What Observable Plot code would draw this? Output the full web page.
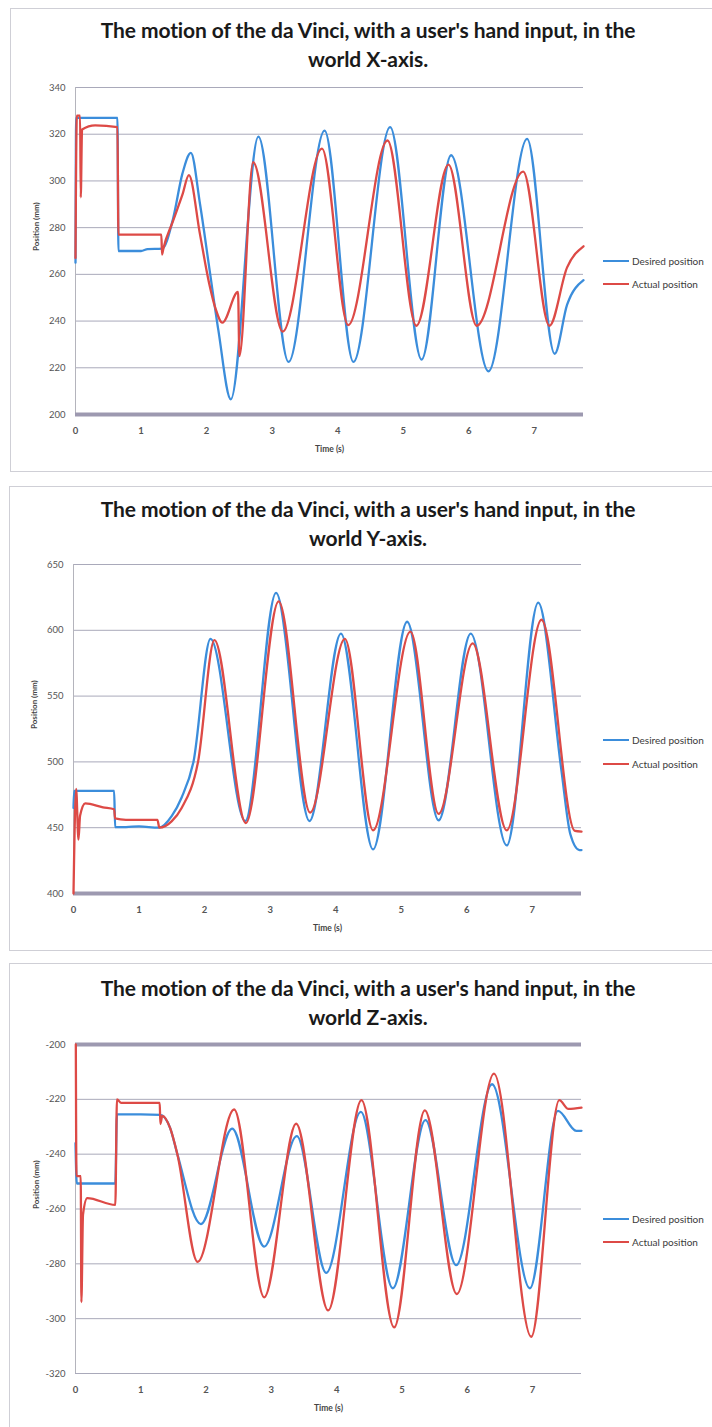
<!DOCTYPE html>
<html><head><meta charset="utf-8">
<script src="https://cdn.jsdelivr.net/npm/d3@7"></script>
<script src="https://cdn.jsdelivr.net/npm/@observablehq/plot@0.6"></script>
<style>
body{margin:0;background:#fff;width:712px;height:1427px;position:relative;overflow:hidden;font-family:Lato,"Open Sans",sans-serif;}
.box{position:absolute;border:1px solid #cfcfd6;box-sizing:border-box;background:#fff;}
.title{position:absolute;left:0;width:736px;text-align:center;font-weight:700;font-size:21px;color:#1a1a1a;line-height:29px;letter-spacing:-0.1px;}
.plot{position:absolute;left:0;}
.leg{position:absolute;left:603px;font-size:10px;color:#3a3a3a;display:flex;align-items:center;height:12px;white-space:nowrap;}
.leg .l{display:inline-block;width:26px;height:2px;margin-right:3px;}
</style></head><body>
<script>
// ---------- data ----------
const timeTicks = [0, 1, 2, 3, 4, 5, 6, 7];
const seriesNames = ["Desired position", "Actual position"];

// X axis panel
const xTicks = [200, 220, 240, 260, 280, 300, 320, 340];
const xDesiredT = [0, 0.01, 0.35, 0.64, 0.655, 1.0, 1.1, 1.32, 1.49, 1.63, 1.76, 1.90, 2.04, 2.18, 2.37, 2.79, 3.25, 3.80, 4.24, 4.80, 5.28, 5.73, 6.30, 6.89, 7.31, 7.50, 7.75];
const xDesiredV = [265, 327, 327, 327, 270, 270, 270.8, 271, 284, 303, 312, 290, 263, 236, 206.5, 319, 222.5, 321.5, 222.5, 323, 223.5, 311, 218.5, 318, 226, 247, 257.5];
const xActualT = [0, 0.02, 0.07, 0.08, 0.10, 0.3, 0.64, 0.655, 1.0, 1.31, 1.32, 1.34, 1.49, 1.63, 1.73, 1.90, 2.04, 2.14, 2.24, 2.48, 2.50, 2.71, 3.16, 3.76, 4.16, 4.76, 5.20, 5.69, 6.12, 6.83, 7.23, 7.50, 7.75];
const xActualV = [267, 328, 328, 293, 322, 323.8, 323, 277, 277, 277, 268.5, 271, 283, 294, 302.5, 277, 256, 245, 239.3, 252.5, 225, 308, 235.5, 313.8, 238.3, 317.3, 238, 307, 238, 304, 238, 263, 272];

// Y axis panel
const yTicks = [400, 450, 500, 550, 600, 650];
const yDesiredT = [0, 0.01, 0.35, 0.62, 0.635, 0.8, 1.0, 1.30, 1.50, 1.65, 1.83, 2.09, 2.62, 3.09, 3.60, 4.08, 4.57, 5.09, 5.57, 6.06, 6.61, 7.09, 7.44, 7.58, 7.72, 7.75];
const yDesiredV = [465, 478, 478, 478, 450.5, 450.5, 451, 450, 459, 473, 500, 593.5, 455, 628.5, 455, 597.5, 433.5, 606.5, 455.5, 597.5, 436.5, 621, 495, 445, 433, 433];
const yActualT = [0, 0.04, 0.076, 0.10, 0.18, 0.45, 0.62, 0.635, 0.8, 1.28, 1.31, 1.50, 1.65, 1.90, 2.15, 2.63, 3.13, 3.61, 4.14, 4.57, 5.14, 5.57, 6.09, 6.61, 7.14, 7.65, 7.75];
const yActualV = [400, 479.5, 441, 459, 468.5, 465.5, 464, 457, 456, 456, 450, 455, 465, 500, 592.5, 453.5, 622, 461.5, 593.5, 448, 599, 460.5, 590, 448, 608, 447.5, 447];

// Z axis panel
const zTicks = [-320, -300, -280, -260, -240, -220, -200];
const zDesiredT = [0, 0.02, 0.35, 0.61, 0.635, 1.0, 1.30, 1.45, 1.56, 1.92, 2.40, 2.89, 3.39, 3.84, 4.37, 4.86, 5.36, 5.83, 6.38, 6.96, 7.39, 7.67, 7.75];
const zDesiredV = [-236, -250.7, -250.7, -250.7, -225.5, -225.5, -225.7, -230.5, -240, -265.5, -230.7, -273.7, -233.4, -283.3, -224.6, -288.9, -227.6, -280.5, -214.5, -288.9, -224.2, -231.5, -231.5];
const zActualT = [0.005, 0.015, 0.08, 0.09, 0.115, 0.18, 0.61, 0.635, 0.7, 1.29, 1.30, 1.33, 1.45, 1.56, 1.87, 2.43, 2.89, 3.38, 3.87, 4.38, 4.88, 5.35, 5.84, 6.41, 6.98, 7.41, 7.55, 7.75];
const zActualV = [-200, -248, -248, -294, -262, -256, -258.5, -220, -221.3, -221.3, -229, -226, -230.5, -240, -279.3, -223.7, -292.2, -228.9, -297, -220.3, -303.2, -224, -291, -210.6, -306.6, -220.3, -223.5, -223];

// ---------- drawing ----------
const CLR_D = "#3b8ddb", CLR_A = "#dd4a46";
const zip = (T, V) => T.map((t, i) => ({t, v: V[i]}));

const panels = [
  {axis: "X", box: [10, 8, 464], titleTop: 15, top0: 0, H: 472, mt: 87, mb: 58, ml: 75, mr: 129,
   ticks: xTicks, base: 200, legY: [261, 284], d: zip(xDesiredT, xDesiredV), a: zip(xActualT, xActualV)},
  {axis: "Y", box: [9, 486, 465], titleTop: 494, top0: 480, H: 470, mt: 84, mb: 57, ml: 73, mr: 131,
   ticks: yTicks, base: 400, legY: [740, 764], d: zip(yDesiredT, yDesiredV), a: zip(yActualT, yActualV)},
  {axis: "Z", box: [9, 963, 470], titleTop: 973, top0: 955, H: 472, mt: 89, mb: 54, ml: 75, mr: 131,
   ticks: zTicks, base: -200, legY: [1219, 1242], d: zip(zDesiredT, zDesiredV), a: zip(zActualT, zActualV)}
];

for (const p of panels) {
  const box = document.createElement("div");
  box.className = "box";
  Object.assign(box.style, {left: p.box[0] + "px", top: p.box[1] + "px", width: "720px", height: p.box[2] + "px"});
  document.body.appendChild(box);

  const title = document.createElement("div");
  title.className = "title";
  title.style.top = p.titleTop + "px";
  title.innerHTML = "The motion of the da Vinci, with a user's hand input, in the<br>world " + p.axis + "-axis.";
  document.body.appendChild(title);

  const dom = d3.extent(p.ticks);
  const chart = Plot.plot({
    width: 712, height: p.H,
    marginTop: p.mt, marginBottom: p.mb, marginLeft: p.ml, marginRight: p.mr,
    x: {domain: [0, 7.75]},
    y: {domain: dom},
    style: {background: "transparent", fontFamily: "Lato, 'Open Sans', sans-serif", color: "#555"},
    marks: [
      Plot.ruleY(p.ticks, {stroke: "#a9a9ba", strokeWidth: 1}),
      Plot.ruleX([0], {stroke: "#b4b4bc", strokeWidth: 1}),
      Plot.ruleY([p.base], {stroke: "#9d99b0", strokeWidth: 4}),
      Plot.axisY({ticks: p.ticks, tickSize: 0, tickPadding: 10, label: null, fontSize: 9.5,
                  tickFormat: d => (d < 0 ? "-" + Math.abs(d) : String(d))}),
      Plot.axisX({ticks: timeTicks, tickSize: 0, tickPadding: 13, label: null, fontSize: 9.5, fontWeight: 700}),
      Plot.text(["Time (s)"], {text: d => d, frameAnchor: "bottom", dy: 37, fontWeight: 700, fontSize: 8.5, fill: "#444"}),
      Plot.text(["Position (mm)"], {text: d => d, frameAnchor: "left", dx: -39, rotate: -90, fontWeight: 700, fontSize: 8, fill: "#444"}),
      Plot.line(p.d, {x: "t", y: "v", stroke: CLR_D, strokeWidth: 2.3, curve: "monotone-x"}),
      Plot.line(p.a, {x: "t", y: "v", stroke: CLR_A, strokeWidth: 2.3, curve: "monotone-x"})
    ]
  });
  chart.classList.add("plot");
  chart.style.top = p.top0 + "px";
  document.body.appendChild(chart);

  [[seriesNames[0], CLR_D], [seriesNames[1], CLR_A]].forEach(([name, c], i) => {
    const leg = document.createElement("div");
    leg.className = "leg";
    leg.style.top = (p.legY[i] - 6) + "px";
    leg.innerHTML = `<span class="l" style="background:${c}"></span><span>${name}</span>`;
    document.body.appendChild(leg);
  });
}
</script></body></html>
